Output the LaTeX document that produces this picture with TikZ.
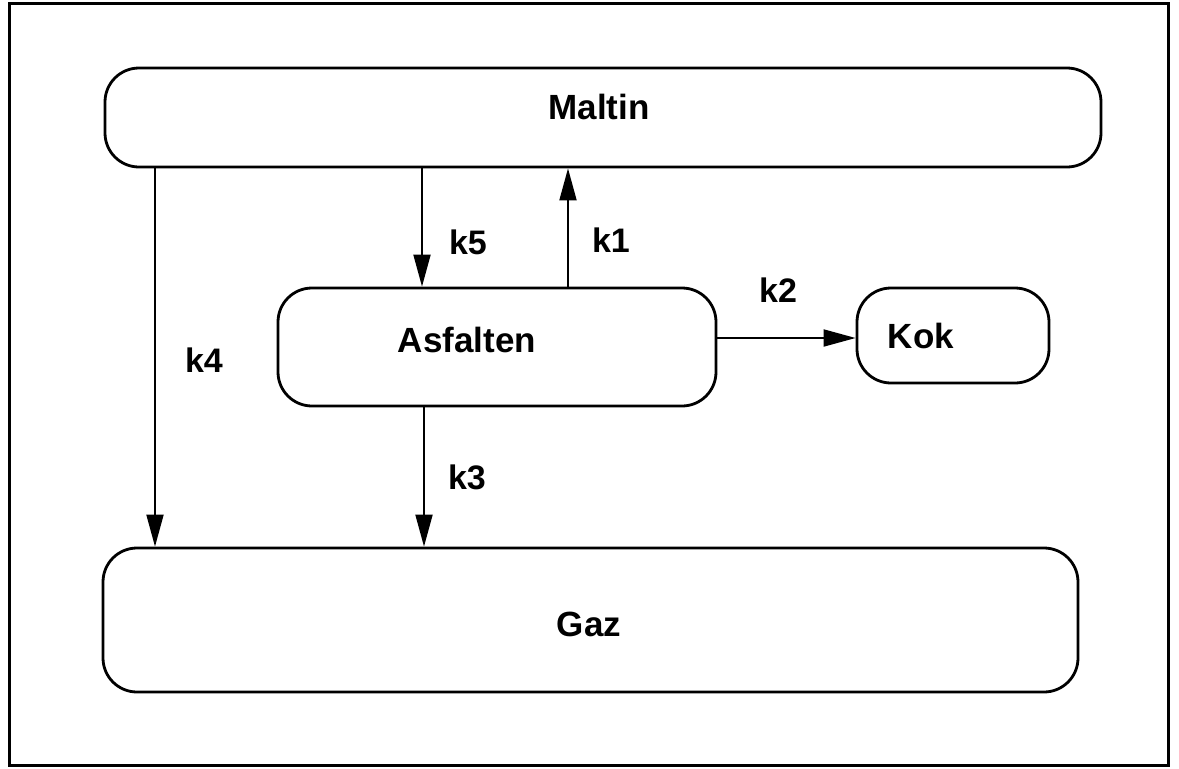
\documentclass[tikz,border=0pt]{standalone}
\usepackage{fontspec}
\setmainfont{Liberation Sans}
\usetikzlibrary{arrows.meta}
\begin{document}
\begin{tikzpicture}[x=1pt,y=-1pt,
  box/.style={draw,line width=2.8pt,rounded corners=34pt,inner sep=0pt},
  lbl/.style={font=\fontsize{34}{40}\selectfont\bfseries},
  spname/.style={font=\fontsize{35}{42}\selectfont\bfseries},
  flow/.style={line width=1.9pt,-{Triangle[length=32pt,width=17pt]}}]
  \useasboundingbox (0,0) rectangle (1179,769);
  % outer frame
  \draw[line width=3pt] (9,3) rectangle (1168,765);
  % species boxes
  \node[box,minimum width=996pt,minimum height=99pt] (maltin) at (603,117.5) {};
  \node[box,minimum width=438pt,minimum height=118pt] (asf) at (497,347) {};
  \node[box,minimum width=192pt,minimum height=95pt] (kok) at (953,335.5) {};
  \node[box,minimum width=975pt,minimum height=144pt] (gaz) at (590.5,620) {};
  % box labels
  \node[spname] (tmaltin) at (599,107) {Maltin};
  \node[spname] (tasf) at (467,340) {Asfalten};
  \node[spname] (tkok) at (921,336) {Kok};
  \node[spname] (tgaz) at (589,624) {Gaz};
  % reaction paths
  \draw[flow] (maltin.south -| 155,0) -- (gaz.north -| 155,0);
  \draw[flow] (maltin.south -| 422,0) -- (asf.north -| 422,0);
  \draw[flow] (asf.north -| 568,0) -- (maltin.south -| 568,0);
  \draw[flow] (asf.east |- 0,338) -- (kok.west |- 0,338);
  \draw[flow] (asf.south -| 424,0) -- (gaz.north -| 424,0);
  % rate constants
  \node[lbl] (k5) at (468,242) {k5};
  \node[lbl] (k1) at (611,240) {k1};
  \node[lbl] (k2) at (778,290) {k2};
  \node[lbl] (k4) at (204,360) {k4};
  \node[lbl] (k3) at (467,477) {k3};
\end{tikzpicture}
\end{document}
